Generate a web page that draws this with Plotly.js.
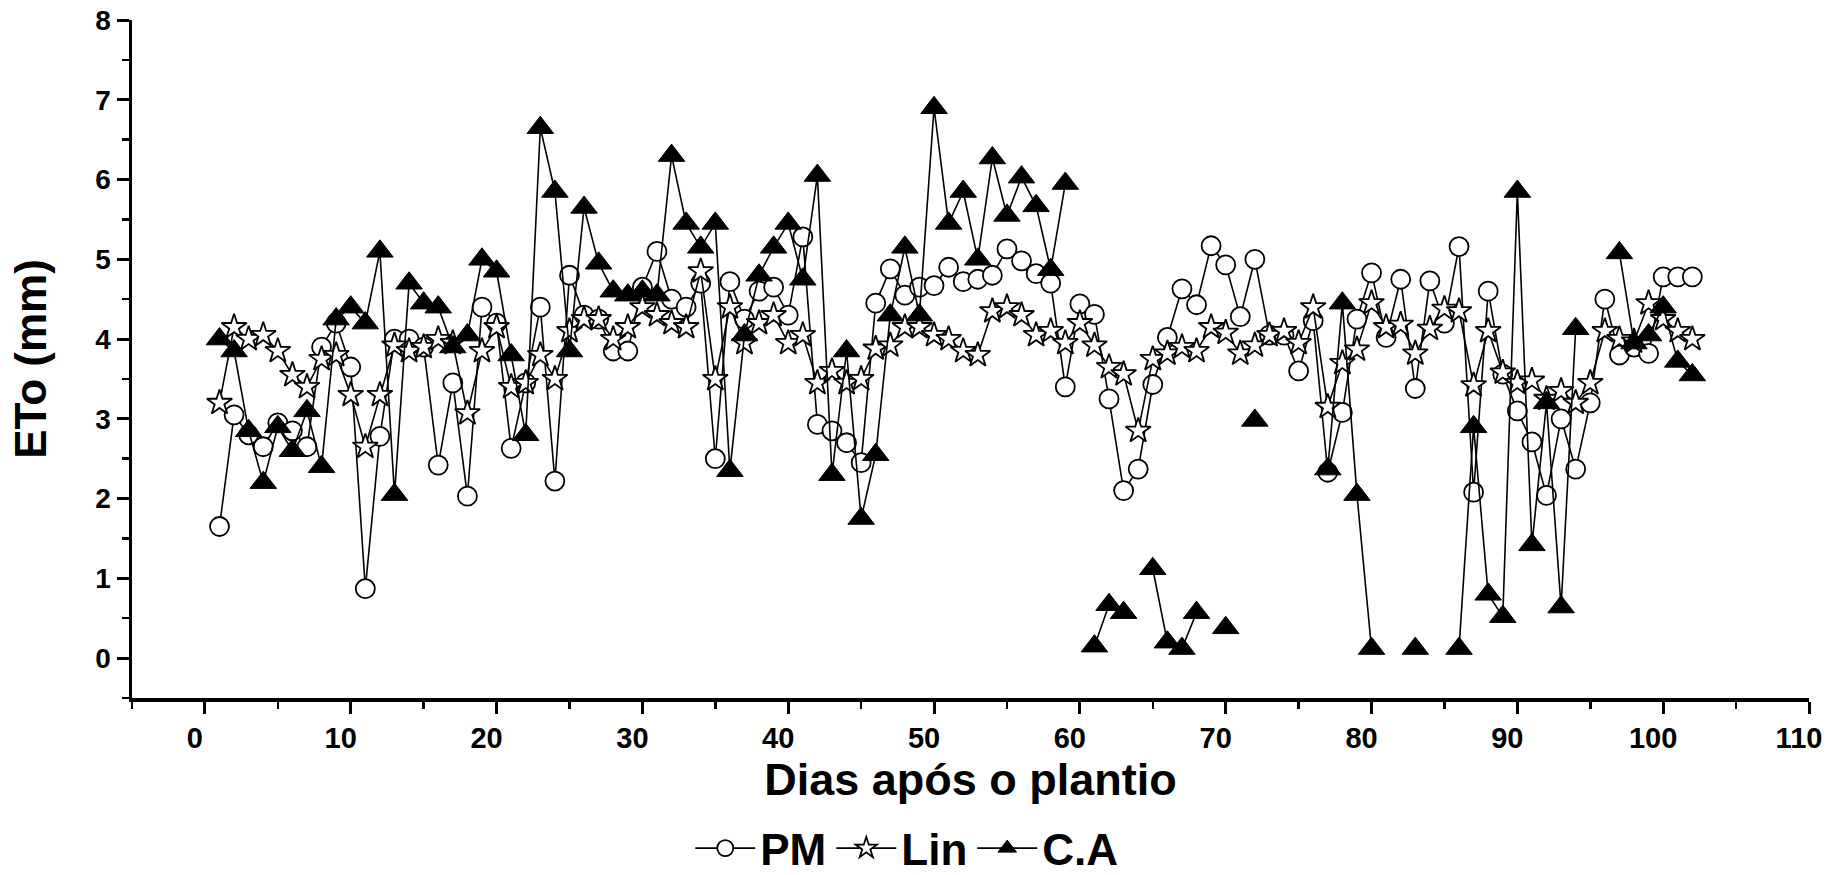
<!DOCTYPE html>
<html>
<head>
<meta charset="utf-8">
<script src="https://cdn.plot.ly/plotly-3.0.1.min.js"></script>
<style>html,body{margin:0;padding:0;background:#fff;}#chart{width:1838px;height:875px;}</style>
</head>
<body>
<div id="chart"></div>
<script>
const days = [1,2,3,4,5,6,7,8,9,10,11,12,13,14,15,16,17,18,19,20,21,22,23,24,25,26,27,28,29,30,31,32,33,34,35,36,37,38,39,40,41,42,43,44,45,46,47,48,49,50,51,52,53,54,55,56,57,58,59,60,61,62,63,64,65,66,67,68,69,70,71,72,73,74,75,76,77,78,79,80,81,82,83,84,85,86,87,88,89,90,91,92,93,94,95,96,97,98,99,100,101,102];

const pm = [1.65,3.05,2.8,2.65,2.95,2.85,2.65,3.9,4.2,3.65,
 0.87,2.78,4.0,4.0,3.9,2.42,3.45,2.03,4.4,4.2,
 2.63,3.45,4.4,2.22,4.8,4.3,4.25,3.85,3.85,4.65,
 5.1,4.5,4.4,4.7,2.5,4.72,4.25,4.6,4.65,4.3,
 5.28,2.93,2.85,2.7,2.45,4.45,4.88,4.55,4.65,4.67,
 4.9,4.72,4.75,4.8,5.13,4.98,4.82,4.7,3.4,4.44,
 4.31,3.25,2.1,2.37,3.43,4.02,4.63,4.43,5.17,4.93,
 4.28,5.0,4.05,4.05,3.6,4.23,2.33,3.08,4.25,4.83,
 4.02,4.75,3.38,4.73,4.2,5.16,2.08,4.6,3.56,3.1,
 2.71,2.04,3.0,2.37,3.2,4.5,3.8,3.9,3.82,4.78,
 4.78,4.78];

const lin = [3.2,4.15,4.0,4.05,3.85,3.55,3.4,3.75,3.8,3.3,
 2.65,3.3,3.92,3.85,3.9,4.0,3.95,3.07,3.85,4.15,
 3.4,3.45,3.8,3.5,4.1,4.25,4.25,4.0,4.15,4.4,
 4.3,4.2,4.15,4.85,3.5,4.4,3.95,4.2,4.3,3.95,
 4.05,3.45,3.6,3.45,3.5,3.88,3.92,4.15,4.15,4.05,
 4.0,3.85,3.8,4.35,4.4,4.3,4.05,4.1,3.95,4.2,
 3.92,3.65,3.56,2.85,3.75,3.82,3.9,3.85,4.15,4.08,
 3.82,3.92,4.05,4.1,3.95,4.4,3.15,3.7,3.87,4.45,
 4.15,4.18,3.82,4.13,4.38,4.35,3.42,4.1,3.58,3.45,
 3.48,3.25,3.35,3.2,3.45,4.1,4.0,3.97,4.45,4.25,
 4.1,4.0];

const ca = [4.0,3.85,2.85,2.2,2.9,2.6,3.1,2.4,4.25,4.4,
 4.2,5.1,2.05,4.7,4.45,4.4,3.9,4.05,5.0,4.85,
 3.8,2.8,6.65,5.85,3.85,5.65,4.95,4.6,4.55,4.6,
 4.55,6.3,5.45,5.15,5.45,2.35,4.05,4.8,5.15,5.45,
 4.75,6.05,2.3,3.85,1.75,2.55,4.3,5.15,4.3,6.9,
 5.45,5.85,5.0,6.27,5.55,6.03,5.67,4.87,5.95,null,
 0.15,0.67,0.57,null,1.12,0.2,0.12,0.57,null,0.38,
 null,2.98,null,null,null,null,2.37,4.45,2.05,0.12,
 null,null,0.12,null,null,0.12,2.9,0.8,0.52,5.85,
 1.42,3.2,0.64,4.13,null,null,5.08,3.95,4.05,4.4,
 3.72,3.55];

const seriesNames = ["PM", "Lin", "C.A"];
const xTickVals = [0,10,20,30,40,50,60,70,80,90,100,110];
const yTickVals = [0,1,2,3,4,5,6,7,8];

const FONT = "Liberation Sans, Arial, sans-serif";

const traces = [
  {x: days, y: pm, name: seriesNames[0], mode: "lines+markers",
   line: {color: "#000", width: 1.6},
   marker: {symbol: "circle", size: 19, color: "#fff", line: {color: "#000", width: 1.8}}},
  {x: days, y: lin, name: seriesNames[1], mode: "lines+markers",
   line: {color: "#000", width: 1.6},
   marker: {symbol: "star", size: 19, color: "#fff", line: {color: "#000", width: 1.8}}},
  {x: days, y: ca, name: seriesNames[2], mode: "lines+markers",
   line: {color: "#000", width: 1.6},
   marker: {symbol: "triangle-up", size: 23, color: "#000", line: {color: "#000", width: 1}}}
];

const layout = {
  width: 1838, height: 875,
  margin: {l: 132, r: 29, t: 20, b: 177, autoexpand: false},
  paper_bgcolor: "#fff", plot_bgcolor: "#fff",
  font: {family: FONT, color: "#000"},
  showlegend: true,
  legend: {orientation: "h", x: 0.462, xanchor: "center", y: -0.222, yanchor: "middle",
    font: {family: FONT, size: 44, weight: "bold", color: "#000"},
    itemwidth: 60, traceorder: "normal"},
  xaxis: {
    range: [-5, 110], showgrid: false, zeroline: false,
    showline: true, linecolor: "#000", linewidth: 3.5,
    ticks: "outside", ticklen: 12, tickwidth: 3, tickcolor: "#000",
    tickvals: xTickVals, ticktext: xTickVals.map(String),
    ticklabelshift: -10,
    tickfont: {family: FONT, size: 29, weight: "bold", color: "#000"},
    minor: {dtick: 5, ticks: "outside", ticklen: 7, tickwidth: 2.5, tickcolor: "#000", showgrid: false},
    title: {text: "Dias após o plantio", standoff: 8,
      font: {family: FONT, size: 45, weight: "bold", color: "#000"}},
    automargin: false
  },
  yaxis: {
    range: [-0.5, 8], showgrid: false, zeroline: false,
    showline: true, linecolor: "#000", linewidth: 3.5,
    ticks: "outside", ticklen: 12, tickwidth: 3, tickcolor: "#000",
    tickvals: yTickVals, ticktext: yTickVals.map(String),
    tickfont: {family: FONT, size: 28, weight: "bold", color: "#000"},
    minor: {dtick: 0.5, ticks: "outside", ticklen: 7, tickwidth: 2.5, tickcolor: "#000", showgrid: false},
    title: {text: "ETo (mm)", standoff: 36,
      font: {family: FONT, size: 44, weight: "bold", color: "#000"}},
    automargin: false
  }
};

Plotly.newPlot("chart", traces, layout, {displayModeBar: false, staticPlot: true});
</script>
</body>
</html>
